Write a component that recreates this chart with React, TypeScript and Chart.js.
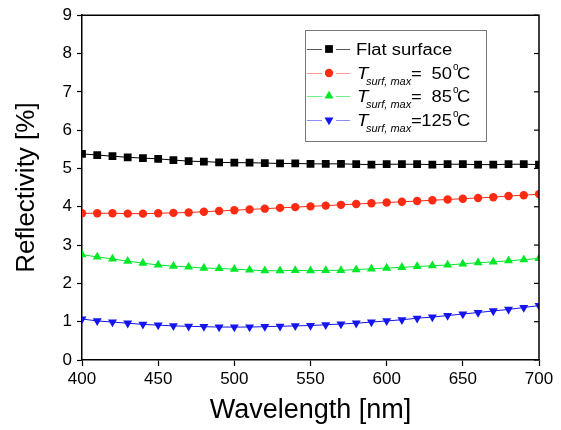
import React, { useEffect, useRef } from 'react';
import { Chart, registerables } from 'chart.js';

Chart.register(...registerables);

const wavelengths = [400, 410, 420, 430, 440, 450, 460, 470, 480, 490, 500, 510, 520, 530, 540, 550, 560, 570, 580, 590, 600, 610, 620, 630, 640, 650, 660, 670, 680, 690, 700];
const flatSurface = [5.38, 5.35, 5.32, 5.29, 5.27, 5.25, 5.22, 5.19, 5.18, 5.16, 5.15, 5.15, 5.14, 5.13, 5.13, 5.12, 5.12, 5.12, 5.11, 5.1, 5.11, 5.11, 5.11, 5.1, 5.11, 5.11, 5.1, 5.1, 5.11, 5.11, 5.1];
const tsurf50 = [3.83, 3.83, 3.83, 3.82, 3.82, 3.83, 3.84, 3.85, 3.87, 3.89, 3.91, 3.93, 3.95, 3.97, 3.99, 4.01, 4.03, 4.05, 4.07, 4.09, 4.11, 4.13, 4.15, 4.17, 4.19, 4.21, 4.23, 4.25, 4.28, 4.3, 4.33];
const tsurf85 = [2.75, 2.69, 2.64, 2.58, 2.53, 2.48, 2.45, 2.43, 2.4, 2.39, 2.37, 2.35, 2.33, 2.33, 2.34, 2.33, 2.34, 2.34, 2.36, 2.38, 2.4, 2.42, 2.44, 2.46, 2.48, 2.51, 2.54, 2.56, 2.59, 2.62, 2.65];
const tsurf125 = [1.07, 1.02, 0.99, 0.96, 0.93, 0.91, 0.89, 0.88, 0.87, 0.86, 0.86, 0.86, 0.87, 0.88, 0.89, 0.9, 0.92, 0.94, 0.96, 0.99, 1.02, 1.05, 1.09, 1.12, 1.16, 1.2, 1.24, 1.28, 1.32, 1.37, 1.42];

const seriesLabels = ['Flat surface', 'T_surf, max = 50°C', 'T_surf, max = 85°C', 'T_surf, max =125°C'];
const tempLabels = ['', '=  50', '=  85', '=125'];
const seriesColors = ['#000000', '#ff2a12', '#00e82a', '#1414ee'];
const seriesLight = ['#555555', '#ff9a90', '#70f080', '#8c8cf4'];
const seriesShapes = ['rect', 'circle', 'triangle', 'triangle'];
const seriesRotation = [0, 0, 0, 180];
const seriesRadius = [5.5, 4.2, 5.2, 5.2];

const FONT = '"Liberation Sans", Arial, Helvetica, sans-serif';

function drawMarker(ctx: CanvasRenderingContext2D, shape: string, rot: number, r: number, x: number, y: number, color: string) {
  ctx.save();
  ctx.fillStyle = color;
  ctx.translate(x, y);
  ctx.rotate((rot * Math.PI) / 180);
  ctx.beginPath();
  if (shape === 'rect') {
    const s = r * Math.SQRT1_2;
    ctx.rect(-s, -s, 2 * s, 2 * s);
  } else if (shape === 'circle') {
    ctx.arc(0, 0, r, 0, Math.PI * 2);
  } else {
    ctx.moveTo(0, -r);
    ctx.lineTo(r * Math.cos(Math.PI / 6), r * 0.5);
    ctx.lineTo(-r * Math.cos(Math.PI / 6), r * 0.5);
    ctx.closePath();
  }
  ctx.fill();
  ctx.restore();
}

function drawStretched(ctx: CanvasRenderingContext2D, text: string, x: number, y: number, font: string, sx: number, align: CanvasTextAlign = 'left') {
  ctx.save();
  ctx.font = font;
  ctx.textAlign = align;
  ctx.textBaseline = 'alphabetic';
  ctx.translate(x, y);
  ctx.scale(sx, 1);
  ctx.fillText(text, 0, 0);
  const w = ctx.measureText(text).width * sx;
  ctx.restore();
  return w;
}

const framePlugin = {
  id: 'frameAndLegend',
  afterDraw(chart: any) {
    const { ctx, chartArea } = chart;
    const yScale = chart.scales.y;
    ctx.save();
    ctx.strokeStyle = '#000';
    ctx.lineWidth = 1.5;
    ctx.beginPath();
    ctx.moveTo(chartArea.left, chartArea.top);
    ctx.lineTo(chartArea.right, chartArea.top);
    ctx.lineTo(chartArea.right, chartArea.bottom);
    ctx.stroke();
    ctx.lineWidth = 1.2;
    yScale.ticks.forEach((t: any) => {
      const py = yScale.getPixelForValue(t.value);
      ctx.beginPath();
      ctx.moveTo(chartArea.right, py);
      ctx.lineTo(chartArea.right - 5, py);
      ctx.stroke();
    });

    const bx = 305, by = 30, bw = 181, bh = 111;
    ctx.fillStyle = '#fff';
    ctx.fillRect(bx, by, bw, bh);
    ctx.strokeStyle = '#777';
    ctx.lineWidth = 1;
    ctx.strokeRect(bx + 0.5, by + 0.5, bw, bh);
    const rowYs = [49, 73, 96, 120];
    chart.data.datasets.forEach((ds: any, i: number) => {
      const ry = rowYs[i];
      ctx.strokeStyle = seriesLight[i];
      ctx.lineWidth = 1;
      ctx.beginPath();
      ctx.moveTo(307, ry + 0.5);
      ctx.lineTo(322, ry + 0.5);
      ctx.moveTo(336, ry + 0.5);
      ctx.lineTo(350, ry + 0.5);
      ctx.stroke();
      drawMarker(ctx, seriesShapes[i], seriesRotation[i], seriesRadius[i], 329, ry, seriesColors[i]);
      ctx.fillStyle = '#000';
      if (i === 0) {
        drawStretched(ctx, ds.label, 356, ry + 6, `16px ${FONT}`, 1.15);
      } else {
        drawStretched(ctx, 'T', 357, ry + 6, `italic 17px ${FONT}`, 1.1);
        drawStretched(ctx, 'surf, max', 366, ry + 12, `italic 11px ${FONT}`, 1.0);
        drawStretched(ctx, '=', 411, ry + 6, `16px ${FONT}`, 1.15);
        drawStretched(ctx, tempLabels[i].replace('=', '').trim(), 452, ry + 6, `16px ${FONT}`, 1.15, 'right');
        drawStretched(ctx, 'o', 453, ry - 3, `10px ${FONT}`, 1.0);
        drawStretched(ctx, 'C', 457, ry + 6, `16px ${FONT}`, 1.15);
      }
    });
    ctx.restore();
  },
};

export default function App() {
  const canvasRef = useRef<HTMLCanvasElement | null>(null);

  useEffect(() => {
    document.body.style.margin = '0';
    const canvas = canvasRef.current;
    if (!canvas) return;
    const seriesData = [flatSurface, tsurf50, tsurf85, tsurf125];
    const chart = new Chart(canvas, {
      type: 'line',
      data: {
        datasets: seriesData.map((vals, i) => ({
          label: seriesLabels[i],
          data: wavelengths.map((w, k) => ({ x: w, y: vals[k] })),
          borderColor: seriesColors[i],
          backgroundColor: seriesColors[i],
          borderWidth: 1,
          pointStyle: seriesShapes[i] as any,
          pointRotation: seriesRotation[i],
          pointRadius: seriesRadius[i],
          pointBorderWidth: 0,
          pointBackgroundColor: seriesColors[i],
          pointBorderColor: seriesColors[i],
          tension: 0,
          fill: false,
        })),
      },
      options: {
        responsive: false,
        animation: false,
        devicePixelRatio: 1,
        layout: { padding: { top: 14, right: 22, left: 0, bottom: 0 } },
        plugins: {
          legend: { display: false },
          tooltip: { enabled: false },
        },
        scales: {
          x: {
            type: 'linear',
            min: 400,
            max: 700,
            ticks: {
              stepSize: 50,
              color: '#000',
              font: { family: FONT, size: 17 },
              padding: 3,
              maxRotation: 0,
            },
            grid: { display: true, drawOnChartArea: false, drawTicks: true, tickLength: 6, tickColor: '#000', tickWidth: 1.2 },
            border: { display: true, color: '#000', width: 1.5 },
            title: {
              display: true,
              text: 'Wavelength [nm]',
              color: '#000',
              font: { family: FONT, size: 27 },
              padding: { top: 0, bottom: 3 },
            },
            afterFit: (scale: any) => {
              scale.height = 70;
            },
          },
          y: {
            type: 'linear',
            min: 0,
            max: 9,
            ticks: {
              stepSize: 1,
              color: '#000',
              font: { family: FONT, size: 17 },
              padding: 5,
            },
            grid: { display: true, drawOnChartArea: false, drawTicks: true, tickLength: 5, tickColor: '#000', tickWidth: 1.2 },
            border: { display: true, color: '#000', width: 1.5 },
            title: {
              display: true,
              text: 'Reflectivity [%]',
              color: '#000',
              font: { family: FONT, size: 26 },
              padding: { top: 11, bottom: 0 },
            },
            afterFit: (scale: any) => {
              scale.width = 82;
            },
          },
        },
      },
      plugins: [framePlugin],
    });
    return () => chart.destroy();
  }, []);

  return (
    <div style={{ width: 561, height: 430, background: '#fff' }}>
      <canvas ref={canvasRef} width={561} height={430} />
    </div>
  );
}
